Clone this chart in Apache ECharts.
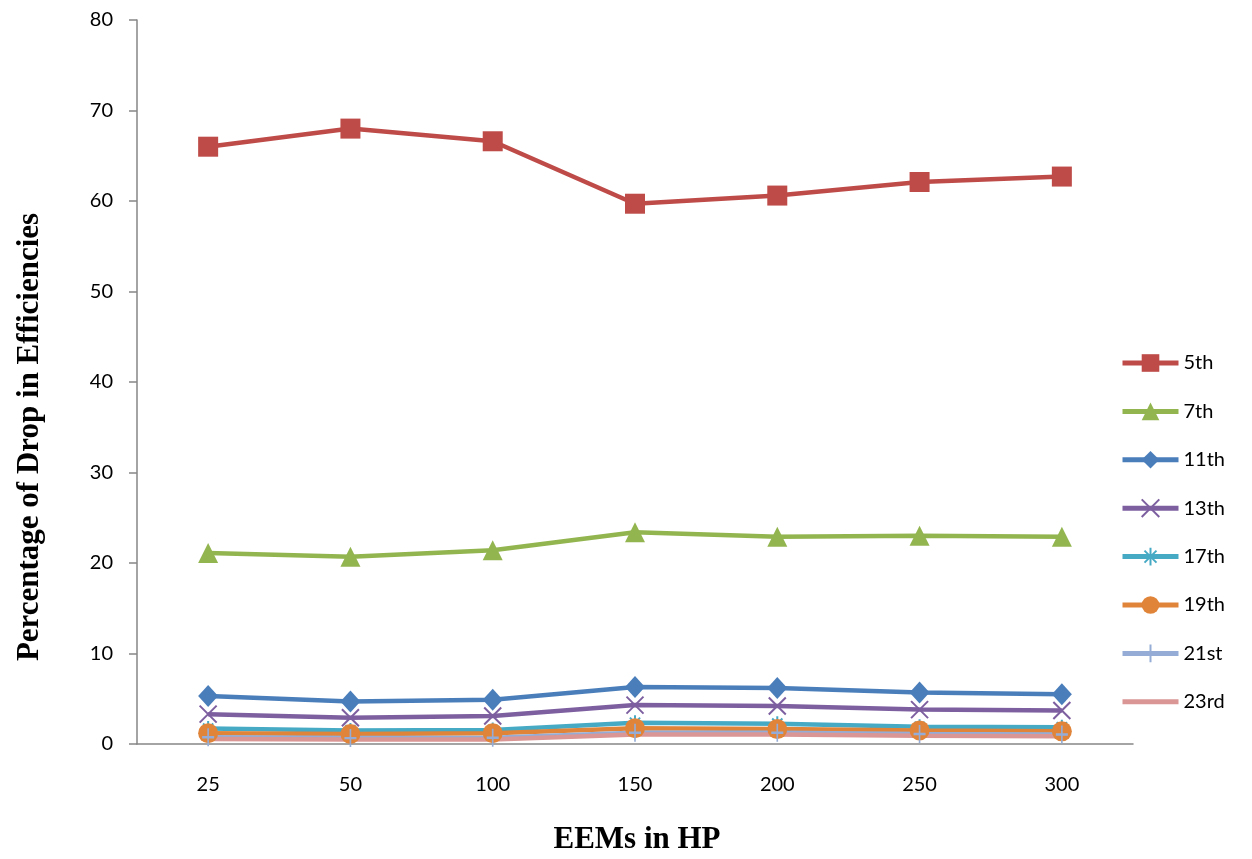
<!DOCTYPE html>
<html>
<head>
<meta charset="utf-8">
<script src="https://cdn.jsdelivr.net/npm/echarts@6/dist/echarts.min.js"></script>
<style>
  html, body { margin: 0; padding: 0; background: #fff; }
  #chart { width: 1252px; height: 859px; }
</style>
</head>
<body>
<div id="chart"></div>
<script>
// EEM ratings (HP)
var categories = ["25", "50", "100", "150", "200", "250", "300"];

// percentage drop in efficiency for each harmonic order
var h5  = [66.0, 68.0, 66.6, 59.7, 60.6, 62.1, 62.7];
var h7  = [21.1, 20.7, 21.4, 23.4, 22.9, 23.0, 22.9];
var h11 = [5.3, 4.7, 4.9, 6.3, 6.2, 5.7, 5.5];
var h13 = [3.3, 2.9, 3.1, 4.3, 4.2, 3.8, 3.7];
var h17 = [1.7, 1.5, 1.55, 2.35, 2.25, 1.9, 1.85];
var h19 = [1.2, 1.1, 1.2, 1.75, 1.65, 1.5, 1.4];
var h21 = [0.75, 0.65, 0.7, 1.25, 1.25, 1.1, 1.05];
var h23 = [0.55, 0.5, 0.5, 1.05, 1.05, 0.9, 0.85];

var yTicks = {min: 0, max: 80, interval: 10};

var chart = echarts.init(document.getElementById("chart"));
var font = "Lato, 'Open Sans', sans-serif";

function mk(name, data, color, symbol, size, extra) {
    var s = {
        name: name, type: "line", data: data,
        symbol: symbol, symbolSize: size,
        lineStyle: {width: 4.5, color: color},
        itemStyle: {color: color},
        emphasis: {disabled: true},
        animation: false
    };
    if (extra) for (var k in extra) s[k] = extra[k];
    return s;
}

var xPath = "path://M0,0L10,10M10,0L0,10";
var starPath = "path://M5,0L5,10M0,5L10,5M1.6,1.6L8.4,8.4M8.4,1.6L1.6,8.4";
var plusPath = "path://M5,0L5,14M0,7L10,7";
var nonePath = "path://M0,0L1,0L1,1L0,1Z";

chart.setOption({
    backgroundColor: "#fff",
    grid: {left: 137, right: 119, top: 20, bottom: 115},
    legend: {
        orient: "vertical", left: 1115, top: 348,
        itemWidth: 56, itemHeight: 22, itemGap: 28.4,
        lineStyle: {width: 5},
        textStyle: {fontFamily: font, fontSize: 20, color: "#000"},
        data: ["5th", "7th", "11th", "13th", "17th", "19th", "21st", "23rd"]
    },
    xAxis: {
        type: "category", data: categories, boundaryGap: true,
        axisLine: {lineStyle: {color: "#868686", width: 1.5}},
        axisTick: {show: false},
        axisLabel: {fontFamily: font, fontSize: 20, color: "#000", margin: 31}
    },
    yAxis: {
        type: "value", min: yTicks.min, max: yTicks.max, interval: yTicks.interval,
        axisLine: {show: true, lineStyle: {color: "#868686", width: 1.5}},
        axisTick: {show: true, length: 8, lineStyle: {color: "#868686", width: 1.5}},
        splitLine: {show: false},
        axisLabel: {fontFamily: font, fontSize: 20, color: "#000", margin: 24}
    },
    graphic: [
        {type: "text", x: 637, y: 840,
         style: {text: "EEMs in HP", font: "bold 31px 'Liberation Serif', serif", fill: "#000",
                 align: "center", verticalAlign: "middle"}},
        {type: "text", x: 30, y: 437, rotation: Math.PI / 2,
         style: {text: "Percentage of Drop in Efficiencies", font: "bold 31px 'Liberation Serif', serif",
                 fill: "#000", align: "center", verticalAlign: "middle"}}
    ],
    series: [
        mk("5th", h5, "#BE4B48", "rect", 20),
        mk("7th", h7, "#93B550", "triangle", 20),
        mk("11th", h11, "#4A7EBB", "diamond", [20, 22]),
        mk("13th", h13, "#7D5FA0", xPath, 17, {itemStyle: {color: "transparent", borderColor: "#7D5FA0", borderWidth: 2}}),
        mk("17th", h17, "#46AAC5", starPath, 15, {itemStyle: {color: "transparent", borderColor: "#46AAC5", borderWidth: 2}}),
        mk("19th", h19, "#E0843A", "circle", 20),
        mk("21st", h21, "#95ADD6", plusPath, [12, 18], {itemStyle: {color: "transparent", borderColor: "#95ADD6", borderWidth: 2}}),
        mk("23rd", h23, "#D99694", nonePath, 1, {itemStyle: {color: "transparent", borderColor: "transparent"}})
    ]
});
</script>
</body>
</html>
